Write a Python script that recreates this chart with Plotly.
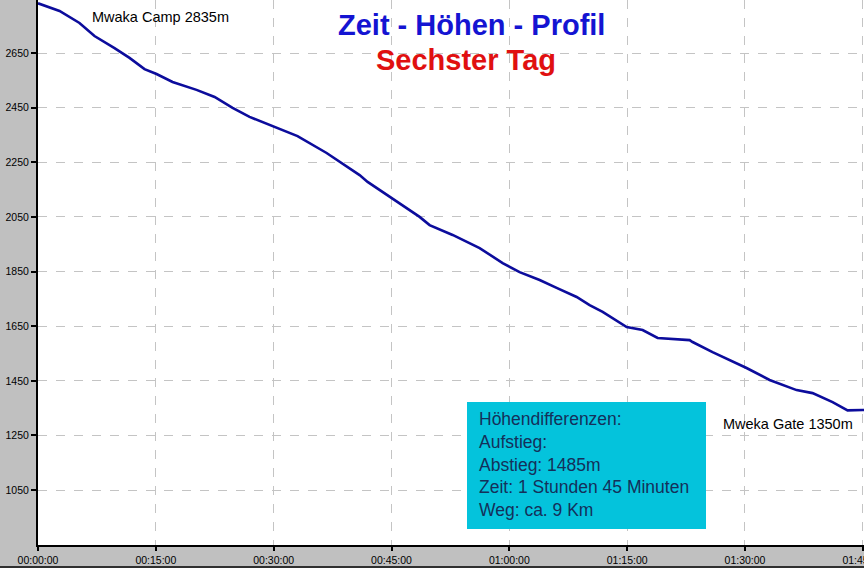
import plotly.graph_objects as go

# Time in minutes since start, elevation in metres
minutes = [0, 2.74, 5.28, 7.19, 9.74, 11.65, 13.56, 15.09, 17.13, 20.18, 22.48, 24.77,
           26.93, 29.48, 31.39, 33.04, 36.74, 38.65, 40.94, 41.96, 45.14, 48.58, 49.85,
           52.78, 56.22, 59.15, 61.31, 63.86, 66.02, 68.57, 70.22, 71.88, 74.94, 76.97,
           78.88, 81.30, 82.95, 83.33, 85.87, 90.20, 93.13, 96.57, 98.60, 101.15, 103.06,
           104.97, 105.3]
elevation = [2832, 2804, 2760, 2712, 2668, 2632, 2591, 2573, 2544, 2515, 2489, 2449,
             2416, 2386, 2364, 2346, 2284, 2247, 2203, 2178, 2115, 2050, 2020,
             1984, 1936, 1881, 1848, 1819, 1790, 1757, 1727, 1702, 1647, 1636,
             1607, 1603, 1599, 1592, 1555, 1497, 1453, 1416, 1405, 1372, 1342,
             1343, 1343]

x_tick_vals = [0, 15, 30, 45, 60, 75, 90, 105]
x_tick_text = ["00:00:00", "00:15:00", "00:30:00", "00:45:00", "01:00:00",
               "01:15:00", "01:30:00", "01:45:00"]
y_tick_vals = [1050, 1250, 1450, 1650, 1850, 2050, 2250, 2450, 2650]

title_main = "Zeit - Höhen - Profil"
title_sub = "Sechster Tag"
start_label = "Mwaka Camp 2835m"
end_label = "Mweka Gate 1350m"
info_lines = ["Höhendifferenzen:", "Aufstieg:", "Abstieg: 1485m",
              "Zeit: 1 Stunden 45 Minuten", "Weg: ca. 9 Km"]

fig = go.Figure()
fig.add_trace(go.Scatter(
    x=minutes, y=elevation, mode="lines",
    line=dict(color="#0c0c9c", width=2.6),
    hoverinfo="skip", showlegend=False,
))

W, H = 864, 568
L, B = 38, 23
PW, PH = W - L, H - B


def px(x):
    return (x - L) / PW


def py(y):
    return 1 - y / PH


fig.update_layout(
    width=W, height=H,
    margin=dict(l=L, r=0, t=0, b=B, pad=0, autoexpand=False),
    paper_bgcolor="#c0c0c0",
    plot_bgcolor="#ffffff",
    font=dict(family="Arial, Liberation Sans, sans-serif", color="#000000"),
    showlegend=False,
)

fig.update_xaxes(
    range=[0, 105.15], tickmode="array", tickvals=x_tick_vals, ticktext=x_tick_text,
    showgrid=True, gridcolor="#c4c4c4", griddash="dash", gridwidth=1,
    showline=True, linecolor="#000000", linewidth=2,
    ticks="outside", ticklen=4, tickwidth=2, tickcolor="#000000",
    tickfont=dict(size=10.5, color="#000000"),
    ticklabeloverflow="allow", zeroline=False, automargin=False,
)
fig.update_yaxes(
    range=[849, 2844], tickmode="array", tickvals=y_tick_vals,
    showgrid=True, gridcolor="#c4c4c4", griddash="dash", gridwidth=1,
    showline=True, linecolor="#000000", linewidth=2,
    ticks="outside", ticklen=5, tickwidth=2, tickcolor="#000000",
    tickfont=dict(size=10.5, color="#000000"), zeroline=False, automargin=False,
)

shapes = [
    # info box
    dict(type="rect", xref="paper", yref="paper",
         x0=px(467), x1=px(706), y0=py(529), y1=py(402),
         fillcolor="#04c3dc", line=dict(width=0), layer="above"),
    # bottom dark border
    dict(type="rect", xref="paper", yref="paper",
         x0=px(0), x1=px(864), y0=py(568), y1=py(566),
         fillcolor="#303030", line=dict(width=0)),
]
fig.update_layout(shapes=shapes)

annotations = [
    dict(text=title_main, xref="paper", yref="paper", x=px(471), y=py(25),
         xanchor="center", yanchor="middle", showarrow=False,
         font=dict(size=29, color="#1414d2", family="Arial, Liberation Sans, sans-serif",
                   weight="bold")),
    dict(text=title_sub, xref="paper", yref="paper", x=px(466), y=py(60),
         xanchor="center", yanchor="middle", showarrow=False,
         font=dict(size=29, color="#e01010", family="Arial, Liberation Sans, sans-serif",
                   weight="bold")),
    dict(text=start_label, xref="paper", yref="paper", x=px(90), y=py(17),
         xanchor="left", yanchor="middle", showarrow=False,
         font=dict(size=14.5, color="#000000")),
    dict(text=end_label, xref="paper", yref="paper", x=px(721), y=py(424),
         xanchor="left", yanchor="middle", showarrow=False,
         font=dict(size=14.5, color="#000000")),
    dict(text="<br>".join(info_lines), xref="paper", yref="paper", x=px(477), y=py(464),
         xanchor="left", yanchor="middle", align="left", showarrow=False,
         font=dict(size=17.5, color="#14305a")),
]
fig.update_layout(annotations=annotations)

fig.write_html("out.html")
